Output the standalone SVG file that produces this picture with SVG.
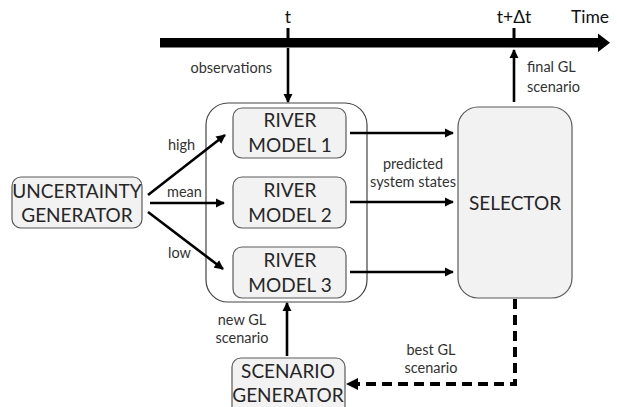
<svg xmlns="http://www.w3.org/2000/svg" width="617" height="407" viewBox="0 0 617 407">
  <defs>
    <style>
      .lbl { font-family: Lato, "Open Sans", "Liberation Sans", sans-serif; font-size: 14.5px; fill: #333; }
      .big { font-family: Lato, "Open Sans", "Liberation Sans", sans-serif; font-size: 19px; fill: #262626; }
      .head { font-family: Lato, "Open Sans", "Liberation Sans", sans-serif; font-size: 17.5px; fill: #111; }
      .box { fill: #f2f2f2; stroke: #5a5a5a; stroke-width: 1.2; }
      .group { fill: #ffffff; stroke: #444; stroke-width: 1.2; }
      .arr { stroke: #000; stroke-width: 2.6; fill: none; marker-end: url(#ah); }
      .dash { stroke: #000; stroke-width: 4; fill: none; stroke-dasharray: 10 6; }
    </style>
    <marker id="ah" viewBox="0 0 10 10" refX="9" refY="5" markerWidth="3.6" markerHeight="3.6" orient="auto" markerUnits="strokeWidth">
      <path d="M0,0 L10,5 L0,10 z" fill="#000"/>
    </marker>
  </defs>

  <!-- time axis -->
  <g id="timeline">
    <rect x="160" y="38" width="440" height="9.5" fill="#000"/>
    <path d="M598,33.5 L610,42.75 L598,52 z" fill="#000"/>
    <line x1="288" y1="28" x2="288" y2="40" stroke="#000" stroke-width="3"/>
    <line x1="514" y1="28" x2="514" y2="40" stroke="#000" stroke-width="3"/>
    <text class="head" x="288" y="23" text-anchor="middle">t</text>
    <text class="head" x="514" y="23" text-anchor="middle">t+Δt</text>
    <text class="head" x="571" y="23">Time</text>
  </g>

  <!-- container around the river models -->
  <g id="models-group">
    <rect class="group" x="206" y="103" width="161" height="199" rx="22"/>
  </g>

  <g id="river1">
    <rect class="box" x="233" y="108" width="113" height="50" rx="9"/>
    <text class="big" x="290" y="127" text-anchor="middle">RIVER</text>
    <text class="big" x="290" y="152" text-anchor="middle">MODEL 1</text>
  </g>
  <g id="river2">
    <rect class="box" x="233" y="177" width="113" height="51" rx="9"/>
    <text class="big" x="290" y="197" text-anchor="middle">RIVER</text>
    <text class="big" x="290" y="222" text-anchor="middle">MODEL 2</text>
  </g>
  <g id="river3">
    <rect class="box" x="233" y="247" width="113" height="51" rx="9"/>
    <text class="big" x="290" y="267" text-anchor="middle">RIVER</text>
    <text class="big" x="290" y="292" text-anchor="middle">MODEL 3</text>
  </g>

  <g id="uncertainty">
    <rect class="box" x="12" y="177" width="130" height="51" rx="9"/>
    <text class="big" x="77" y="198" text-anchor="middle">UNCERTAINTY</text>
    <text class="big" x="77" y="222" text-anchor="middle">GENERATOR</text>
  </g>

  <g id="selector">
    <rect class="box" x="458" y="107" width="114" height="191" rx="20"/>
    <text class="big" x="515" y="210" text-anchor="middle">SELECTOR</text>
  </g>

  <g id="scenario-generator">
    <rect class="box" x="232" y="358" width="113" height="60" rx="9"/>
    <text class="big" x="288" y="378" text-anchor="middle">SCENARIO</text>
    <text class="big" x="288" y="402" text-anchor="middle">GENERATOR</text>
  </g>

  <!-- connectors -->
  <g id="connectors">
    <line class="arr" x1="288" y1="48" x2="288" y2="102"/>
    <line class="arr" x1="514" y1="102" x2="514" y2="50"/>
    <line class="arr" x1="148" y1="195" x2="225" y2="135"/>
    <line class="arr" x1="150" y1="203" x2="224" y2="203"/>
    <line class="arr" x1="148" y1="212" x2="223" y2="269"/>
    <line class="arr" x1="350" y1="133" x2="453" y2="133"/>
    <line class="arr" x1="350" y1="202" x2="453" y2="202"/>
    <line class="arr" x1="350" y1="272" x2="453" y2="272"/>
    <line class="arr" x1="287" y1="356" x2="287" y2="303"/>
    <path class="dash" d="M515,299 L515,384 L358,384"/>
    <path d="M346,384 L358,378 L358,390 z" fill="#000"/>
  </g>

  <!-- connector labels -->
  <g id="labels">
    <text class="lbl" x="272" y="73" text-anchor="end">observations</text>
    <text class="lbl" x="527" y="72">final GL</text>
    <text class="lbl" x="527" y="92">scenario</text>
    <text class="lbl" x="168" y="150">high</text>
    <text class="lbl" x="167" y="197">mean</text>
    <text class="lbl" x="168" y="258">low</text>
    <text class="lbl" x="413" y="169" text-anchor="middle">predicted</text>
    <text class="lbl" x="413" y="187" text-anchor="middle">system states</text>
    <text class="lbl" x="242" y="325" text-anchor="middle">new GL</text>
    <text class="lbl" x="242" y="343" text-anchor="middle">scenario</text>
    <text class="lbl" x="431" y="355" text-anchor="middle">best GL</text>
    <text class="lbl" x="431" y="373" text-anchor="middle">scenario</text>
  </g>
</svg>
